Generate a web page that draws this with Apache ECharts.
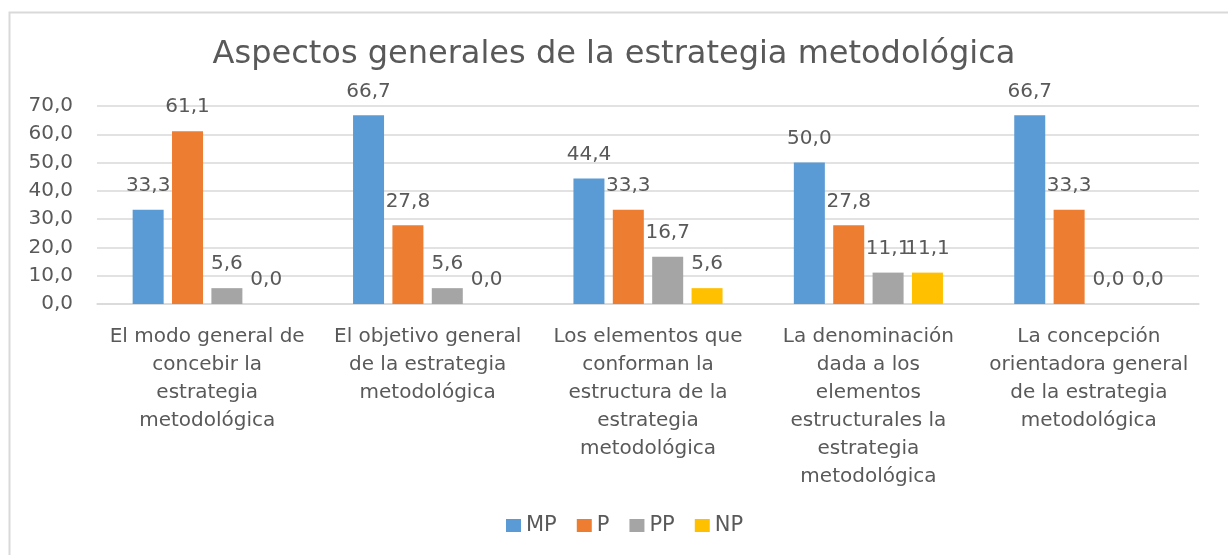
<!DOCTYPE html>
<html>
<head>
<meta charset="utf-8">
<script src="https://cdn.jsdelivr.net/npm/echarts@6/dist/echarts.min.js"></script>
<style>
  html, body { margin: 0; padding: 0; background: #fff; }
  #mycharts { width: 1228px; height: 555px; }
</style>
</head>
<body>
<div id="mycharts"></div>
<script>
// categorias (con los saltos de linea del grafico original)
var categorias = [
    'El modo general de\nconcebir la\nestrategia\nmetodológica',
    'El objetivo general\nde la estrategia\nmetodológica',
    'Los elementos que\nconforman la\nestructura de la\nestrategia\nmetodológica',
    'La denominación\ndada a los\nelementos\nestructurales la\nestrategia\nmetodológica',
    'La concepción\norientadora general\nde la estrategia\nmetodológica'
];
var serieMP = [33.3, 66.7, 44.4, 50.0, 66.7];
var serieP  = [61.1, 27.8, 33.3, 27.8, 33.3];
var seriePP = [5.6, 5.6, 16.7, 11.1, 0.0];
var serieNP = [0.0, 0.0, 5.6, 11.1, 0.0];
var nombres = ['MP', 'P', 'PP', 'NP'];
var colores = ['#5B9BD5', '#ED7D31', '#A5A5A5', '#FFC000'];

var fuente = 'DejaVu Sans';
var gris = '#595959';

function coma(v) {
    return Number(v).toFixed(1).replace('.', ',');
}

function serie(nombre, datos, color) {
    return {
        name: nombre,
        type: 'bar',
        data: datos,
        barWidth: 31,
        barGap: '27%',
        itemStyle: { color: color },
        label: {
            show: true,
            position: 'top',
            distance: 14,
            fontFamily: fuente,
            fontSize: 20,
            color: gris,
            formatter: function (p) { return coma(p.value); }
        }
    };
}

var myChart = echarts.init(document.getElementById('mycharts'));
var option = {
    backgroundColor: '#fff',
    animation: false,
    graphic: [{
        type: 'rect',
        left: 7,
        top: 10,
        shape: { width: 1240, height: 560 },
        style: { fill: 'none', stroke: '#d9d9d9', lineWidth: 2 },
        silent: true
    }],
    title: {
        text: 'Aspectos generales de la estrategia metodológica',
        left: 'center',
        top: 34,
        textStyle: {
            fontFamily: fuente,
            fontSize: 32,
            fontWeight: 'normal',
            color: gris
        }
    },
    legend: {
        data: nombres,
        bottom: 14,
        left: 501,
        icon: 'rect',
        itemWidth: 15,
        itemHeight: 13,
        itemGap: 20,
        textStyle: { fontFamily: fuente, fontSize: 21, color: gris }
    },
    grid: {
        left: 97,
        right: 29,
        top: 106,
        bottom: 251
    },
    xAxis: {
        type: 'category',
        data: categorias,
        axisLine: { show: true, lineStyle: { color: '#d9d9d9', width: 1.5 } },
        axisTick: { show: false },
        axisLabel: {
            interval: 0,
            margin: 19,
            fontFamily: fuente,
            fontSize: 20,
            lineHeight: 28,
            color: gris
        }
    },
    yAxis: {
        type: 'value',
        min: 0,
        max: 70,
        interval: 10,
        axisLine: { show: false },
        axisTick: { show: false },
        splitLine: { lineStyle: { color: '#d9d9d9', width: 1.5 } },
        axisLabel: {
            margin: 24,
            fontFamily: fuente,
            fontSize: 20,
            color: gris,
            formatter: function (v) { return coma(v); }
        }
    },
    series: [
        serie(nombres[0], serieMP, colores[0]),
        serie(nombres[1], serieP, colores[1]),
        serie(nombres[2], seriePP, colores[2]),
        serie(nombres[3], serieNP, colores[3])
    ]
};

myChart.setOption(option);
</script>
</body>
</html>
